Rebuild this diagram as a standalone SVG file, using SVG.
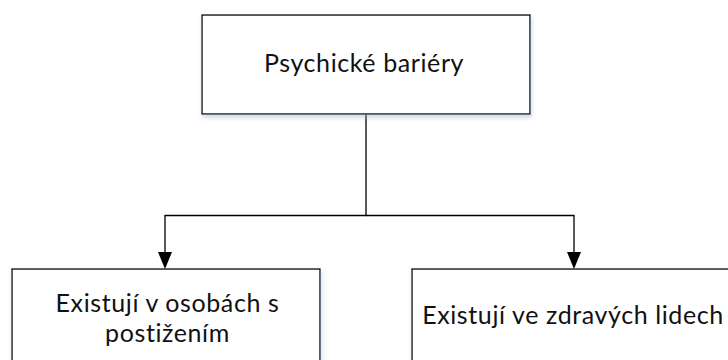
<svg xmlns="http://www.w3.org/2000/svg" width="728" height="360" viewBox="0 0 728 360">
<defs>
<style>
.box{fill:#fff;stroke:#000;stroke-width:1.3}
.t{font-family:Lato,"Open Sans",sans-serif;font-size:25px;letter-spacing:0.6px;fill:#111;text-anchor:middle}
.c{fill:none;stroke:#000;stroke-width:1.3}
</style>
<filter id="sh" x="-5%" y="-5%" width="115%" height="120%">
<feDropShadow dx="1" dy="3" stdDeviation="2" flood-color="#9bb0d0" flood-opacity="0.5"/>
</filter>
</defs>
<rect width="728" height="360" fill="#fff"/>
<g id="connectors">
<path class="c" d="M366,114 V215.5 H165 V252"/>
<path d="M158,252 L172,252 L165,269 Z" fill="#000"/>
<path class="c" d="M366,215.5 H574 V252"/>
<path d="M567,252 L581,252 L574,269 Z" fill="#000"/>
</g>
<g id="psychicke">
<rect class="box" x="202" y="15" width="328" height="99" filter="url(#sh)"/>
<text class="t" x="364" y="72">Psychické bariéry</text>
</g>
<g id="osoby">
<rect class="box" x="12" y="269" width="308" height="110" filter="url(#sh)"/>
<text class="t" x="167.5" y="312">Existují v osobách s</text>
<text class="t" x="167.5" y="342">postižením</text>
</g>
<g id="zdravi">
<rect class="box" x="412" y="269" width="330" height="110" filter="url(#sh)"/>
<text class="t" x="573" y="323.5">Existují ve zdravých lidech</text>
</g>
</svg>
